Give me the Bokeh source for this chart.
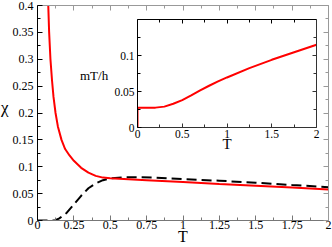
from bokeh.plotting import figure
from bokeh.models import (Range1d, LinearAxis, FixedTicker, CustomJSTickFormatter,
                          ColumnDataSource, CustomLabelingPolicy, Div)
from bokeh.layouts import column
from bokeh.embed import file_html
from bokeh.resources import INLINE

# ---------------- data ----------------
red_T = [0.074, 0.08, 0.089, 0.1, 0.11, 0.124, 0.14, 0.165, 0.19, 0.22, 0.25, 0.3, 0.35, 0.4,
         0.45, 0.5, 0.75, 1.0, 1.25, 1.5, 1.75, 2.0]
red_chi = [0.4, 0.35, 0.3, 0.26, 0.23, 0.2, 0.175, 0.15, 0.133, 0.121, 0.111, 0.098, 0.089, 0.083,
           0.0798, 0.0786, 0.075, 0.0715, 0.068, 0.0647, 0.0612, 0.0577]

dash_T = [0.0, 0.12, 0.15, 0.2, 0.25, 0.3, 0.35, 0.4, 0.45, 0.5, 0.6, 0.7, 0.8, 1.0, 1.25, 1.5,
          1.75, 2.0]
dash_chi = [0.0, 0.0, 0.004, 0.014, 0.03, 0.046, 0.06, 0.069, 0.075, 0.0785, 0.0805, 0.0805,
            0.08, 0.077, 0.074, 0.0703, 0.066, 0.062]

inset_T = [0.0, 0.0, 0.1, 0.2, 0.3, 0.4, 0.5, 0.6, 0.7, 0.8, 0.9, 1.0, 1.25, 1.5, 1.75, 2.0]
inset_mTh = [0.0, 0.0275, 0.0275, 0.0276, 0.029, 0.033, 0.038, 0.0445, 0.0515, 0.058, 0.064,
             0.0695, 0.0825, 0.094, 0.1045, 0.115]

main_x_ticks = [0, 0.25, 0.5, 0.75, 1, 1.25, 1.5, 1.75, 2]
main_x_minor = [0.125, 0.375, 0.625, 0.875, 1.125, 1.375, 1.625, 1.875]
main_y_ticks = [0, 0.05, 0.1, 0.15, 0.2, 0.25, 0.3, 0.35, 0.4]
main_y_minor = [0.025, 0.075, 0.125, 0.175, 0.225, 0.275, 0.325, 0.375]
inset_x_ticks = [0, 0.5, 1, 1.5, 2]
inset_x_minor = [0.25, 0.75, 1.25, 1.75]
inset_y_ticks = [0, 0.05, 0.1]
inset_y_minor = [0.025, 0.075, 0.125]

main_xlabel = "T"
main_ylabel = "χ"
inset_xlabel = "T"
inset_ylabel = "mT/h"

FONT = "Liberation Serif"


def style_axis(ax, ticks, minor, color, label_size, show_labels=True, tin=5, mtin=3):
    ax.ticker = FixedTicker(ticks=ticks, minor_ticks=minor)
    ax.axis_line_color = color
    ax.axis_line_width = 1
    ax.major_tick_in = tin
    ax.major_tick_out = 0
    ax.minor_tick_in = mtin
    ax.minor_tick_out = 0
    ax.major_tick_line_color = color
    ax.minor_tick_line_color = color
    ax.major_label_text_font = FONT
    ax.axis_label_text_font = FONT
    ax.axis_label_text_font_style = "normal"
    ax.axis_label_text_color = "black"
    ax.major_label_text_color = "black"
    if show_labels:
        ax.formatter = CustomJSTickFormatter(code="return String(tick)")
        ax.major_label_text_font_size = label_size
    else:
        ax.formatter = CustomJSTickFormatter(code="return ''")
        ax.major_label_policy = CustomLabelingPolicy(
            code="try { for (const i of indices) indices.unset(i) } catch (e) {} return indices")
        ax.major_label_text_font_size = "1px"
        ax.major_label_standoff = 0


BORDERS = dict(min_border_left=37, min_border_right=4, min_border_top=5, min_border_bottom=27)

# ---------------- main plot ----------------
p = figure(width=332, height=247, output_backend="svg", toolbar_location=None, tools="",
           x_range=Range1d(0, 2), y_range=Range1d(0, 0.4), **BORDERS)
p.xgrid.visible = False
p.ygrid.visible = False
p.outline_line_color = None
p.background_fill_color = "white"
p.border_fill_color = "white"

xa = p.xaxis[0]
style_axis(xa, main_x_ticks, main_x_minor, "#777777", "12px")
xa.axis_label = main_xlabel
xa.axis_label_text_font_size = "16px"
xa.major_label_standoff = 0
xa.axis_label_standoff = -4

ya = p.yaxis[0]
style_axis(ya, main_y_ticks, main_y_minor, "black", "12px")
ya.major_label_standoff = 4

top_ax = LinearAxis()
style_axis(top_ax, main_x_ticks, main_x_minor, "#999999", "1px", show_labels=False)
p.add_layout(top_ax, "above")
right_ax = LinearAxis()
style_axis(right_ax, main_y_ticks, main_y_minor, "#999999", "1px", show_labels=False)
p.add_layout(right_ax, "right")

src_red = ColumnDataSource(dict(T=red_T, chi=red_chi))
src_dash = ColumnDataSource(dict(T=dash_T, chi=dash_chi))
p.line("T", "chi", source=src_dash, line_color="black", line_width=2, line_dash="10 5")
p.line("T", "chi", source=src_red, line_color="#ff0000", line_width=2)

# ---------------- inset ----------------
q = figure(width=220, height=140, output_backend="svg", toolbar_location=None, tools="",
           x_range=Range1d(0, 2), y_range=Range1d(0, 0.15), **BORDERS,
           styles={"position": "absolute", "left": "100px", "top": "14px"})
q.xgrid.visible = False
q.ygrid.visible = False
q.outline_line_color = None
q.background_fill_color = "white"
q.border_fill_alpha = 0

qx = q.xaxis[0]
style_axis(qx, inset_x_ticks, inset_x_minor, "#333333", "11.5px", tin=4, mtin=3)
qx.axis_label = inset_xlabel
qx.axis_label_text_font_size = "15px"
qx.major_label_standoff = 2
qx.axis_label_standoff = -5

qy = q.yaxis[0]
style_axis(qy, inset_y_ticks, inset_y_minor, "black", "11.5px", tin=4, mtin=3)
qy.major_label_standoff = 3

qt = LinearAxis()
style_axis(qt, inset_x_ticks, inset_x_minor, "black", "1px", show_labels=False, tin=4, mtin=3)
q.add_layout(qt, "above")
qr = LinearAxis()
style_axis(qr, inset_y_ticks, inset_y_minor, "#333333", "1px", show_labels=False, tin=4, mtin=3)
q.add_layout(qr, "right")

src_in = ColumnDataSource(dict(T=inset_T, v=inset_mTh))
q.line("T", "v", source=src_in, line_color="#ff0000", line_width=2)

# ---------------- horizontal axis titles ----------------
chi_div = Div(text=main_ylabel, width=14, height=20, margin=0,
              styles={"position": "absolute", "left": "1px", "top": "99px",
                      "font-family": FONT, "font-size": "17px", "line-height": "1",
                      "color": "black", "padding": "0"})
mth_div = Div(text=inset_ylabel, width=34, height=16, margin=0,
              styles={"position": "absolute", "left": "80px", "top": "69px",
                      "font-family": FONT, "font-size": "13px", "line-height": "1",
                      "color": "black", "padding": "0"})

layout = column(p, q, chi_div, mth_div)
open("out.html", "w").write(file_html(layout, INLINE))
